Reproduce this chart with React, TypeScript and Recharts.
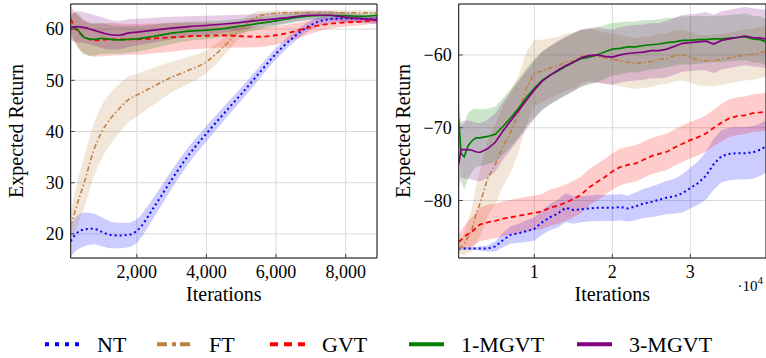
import React from 'react';
import { ComposedChart, Line, Area, XAxis, YAxis, CartesianGrid, ReferenceArea } from 'recharts';

// ---------- series ----------
const SERIES = ['NT', 'FT', 'GVT', '1-MGVT', '3-MGVT'];

// ---------- left panel (iterations) ----------
const leftIterations = [100, 250, 500, 750, 1000, 1250, 1500, 1750, 2000, 2500, 3000, 3500, 4000, 4500, 5000, 5500, 6000, 6500, 7000, 7500, 8000, 8500, 8900];
const leftNT = [18.6, 20.0, 20.9, 21.0, 20.4, 19.8, 19.7, 19.8, 20.6, 25.3, 30.6, 35.5, 39.6, 43.5, 47.3, 51.3, 55.2, 58.4, 60.8, 61.9, 62.1, 62.0, 61.9];
const leftNTSpread = [3.0, 3.3, 3.3, 3.0, 2.8, 2.6, 2.5, 2.4, 2.3, 2.0, 1.8, 1.6, 1.5, 1.4, 1.3, 1.2, 1.1, 1.0, 0.9, 0.8, 0.7, 0.6, 0.6];
const leftFT = [21.5, 25.0, 30.3, 36.1, 40.0, 42.6, 44.5, 46.2, 47.1, 48.9, 50.6, 52.0, 53.6, 56.6, 60.1, 62.5, 63.1, 63.2, 63.2, 63.2, 63.2, 63.2, 63.2];
const leftFTSpread = [2.5, 4.0, 5.0, 5.2, 5.2, 5.0, 4.8, 4.5, 4.2, 3.6, 3.0, 2.6, 2.2, 1.8, 1.5, 1.0, 0.6, 0.5, 0.5, 0.5, 0.5, 0.5, 0.5];
const leftGVT = [62.0, 60.0, 58.5, 57.8, 57.9, 58.0, 58.0, 58.0, 58.0, 58.2, 58.4, 58.6, 58.7, 58.8, 58.6, 58.5, 58.8, 59.5, 60.4, 61.0, 61.3, 61.5, 61.8];
const leftGVTSpread = [2.5, 3.0, 3.2, 3.2, 3.2, 3.2, 3.1, 3.0, 3.0, 2.9, 2.8, 2.6, 2.5, 2.4, 2.2, 2.0, 1.8, 1.6, 1.3, 1.0, 0.8, 0.7, 0.7];
const left1MGVT = [60.5, 60.2, 58.3, 58.0, 58.2, 58.0, 57.9, 58.0, 58.1, 58.6, 59.2, 59.6, 59.8, 60.1, 60.6, 61.1, 61.6, 62.2, 62.6, 62.7, 62.6, 62.5, 62.7];
const left1MGVTSpread = [2.0, 3.0, 3.3, 3.2, 3.0, 2.8, 2.7, 2.6, 2.5, 2.3, 2.1, 1.9, 1.8, 1.6, 1.4, 1.2, 1.0, 0.9, 0.8, 0.7, 0.7, 0.6, 0.6];
const left3MGVT = [60.2, 60.5, 60.3, 59.8, 59.3, 58.9, 58.8, 59.2, 59.4, 59.8, 60.2, 60.5, 60.7, 61.0, 61.3, 61.7, 62.0, 62.4, 62.7, 62.7, 62.3, 62.0, 61.8];
const left3MGVTSpread = [2.5, 3.0, 3.0, 3.0, 3.0, 2.9, 2.8, 2.7, 2.6, 2.4, 2.2, 2.0, 1.9, 1.7, 1.5, 1.3, 1.2, 1.0, 0.9, 0.9, 0.8, 0.8, 0.8];
const leftXTicks = [2000, 4000, 6000, 8000];
const leftYTicks = [20, 30, 40, 50, 60];

// ---------- right panel (iterations x 10^4) ----------
const rightIterations = [0.03, 0.06, 0.1, 0.15, 0.2, 0.25, 0.3, 0.4, 0.5, 0.6, 0.7, 0.8, 0.9, 1.0, 1.1, 1.2, 1.3, 1.4, 1.5, 1.6, 1.7, 1.8, 1.9, 2.0, 2.1, 2.2, 2.3, 2.4, 2.5, 2.6, 2.7, 2.8, 2.9, 3.0, 3.1, 3.2, 3.3, 3.4, 3.5, 3.6, 3.7, 3.8, 3.9, 3.97];
const rightNT = [-86.6, -86.6, -86.6, -86.6, -86.6, -86.6, -86.6, -86.6, -86.3, -85.4, -84.7, -84.5, -84.2, -83.9, -83.0, -82.3, -81.8, -81.0, -81.3, -81.2, -81.1, -81.0, -81.0, -81.0, -80.9, -81.1, -80.8, -80.4, -80.2, -79.9, -79.6, -79.4, -79.0, -78.3, -77.6, -76.6, -75.0, -73.9, -73.6, -73.5, -73.5, -73.4, -73.0, -72.6];
const rightNTSpread = [0.2, 0.2, 0.2, 0.2, 0.2, 0.2, 0.3, 0.4, 0.7, 1.0, 1.2, 1.3, 1.5, 1.6, 1.7, 1.8, 1.9, 2.0, 1.9, 1.8, 1.8, 1.8, 1.8, 1.8, 1.8, 1.8, 1.9, 2.0, 2.1, 2.2, 2.3, 2.4, 2.6, 2.8, 3.0, 3.3, 3.5, 3.6, 3.6, 3.6, 3.6, 3.6, 3.6, 3.6];
const rightFT = [-86.6, -86.4, -86.0, -85.0, -84.0, -82.0, -80.5, -77.0, -75.0, -72.5, -70.5, -68.0, -64.5, -62.5, -62.2, -61.8, -61.5, -61.0, -60.8, -60.2, -60.0, -60.2, -60.4, -60.6, -60.8, -61.0, -61.2, -61.0, -60.9, -60.6, -60.5, -60.1, -60.0, -60.3, -60.7, -60.8, -60.8, -60.6, -60.4, -60.2, -60.0, -59.9, -59.7, -59.5];
const rightFTSpread = [0.5, 1.0, 1.5, 2.2, 3.0, 3.8, 4.5, 5.2, 5.5, 5.5, 5.5, 5.3, 5.0, 4.6, 4.3, 4.1, 4.0, 3.9, 3.8, 3.7, 3.6, 3.6, 3.5, 3.5, 3.5, 3.5, 3.5, 3.5, 3.5, 3.5, 3.5, 3.5, 3.5, 3.5, 3.5, 3.5, 3.5, 3.5, 3.5, 3.5, 3.5, 3.5, 3.5, 3.5];
const rightGVT = [-85.7, -85.4, -85.0, -84.6, -84.3, -83.8, -83.3, -83.0, -82.8, -82.5, -82.3, -82.1, -81.9, -81.7, -81.5, -81.0, -80.7, -80.3, -79.8, -79.2, -78.2, -77.5, -76.8, -76.0, -75.4, -75.1, -74.9, -74.4, -73.9, -73.6, -73.3, -72.7, -72.2, -71.7, -71.3, -70.8, -70.0, -69.3, -68.7, -68.4, -68.3, -68.0, -67.9, -67.8];
const rightGVTSpread = [1.0, 1.2, 1.5, 1.8, 2.0, 2.2, 2.3, 2.4, 2.4, 2.4, 2.4, 2.4, 2.4, 2.4, 2.4, 2.5, 2.5, 2.5, 2.5, 2.5, 2.5, 2.5, 2.5, 2.5, 2.5, 2.5, 2.5, 2.5, 2.5, 2.5, 2.5, 2.5, 2.5, 2.5, 2.5, 2.5, 2.5, 2.6, 2.6, 2.6, 2.6, 2.6, 2.6, 2.6];
const right1MGVT = [-68.8, -73.5, -74.0, -72.5, -71.8, -71.4, -71.4, -71.2, -70.9, -69.8, -68.6, -67.3, -65.8, -64.6, -63.5, -62.8, -62.2, -61.6, -61.0, -60.5, -60.3, -60.0, -59.6, -59.2, -59.1, -58.9, -58.9, -58.7, -58.6, -58.5, -58.3, -58.2, -58.0, -58.0, -57.9, -57.9, -57.8, -57.8, -57.7, -57.6, -57.5, -57.8, -57.9, -58.2];
const right1MGVTSpread = [3.0, 4.0, 4.5, 4.5, 4.3, 4.0, 3.9, 3.8, 3.8, 3.9, 4.0, 4.0, 4.0, 4.0, 4.0, 4.0, 4.0, 4.0, 4.0, 3.9, 3.8, 3.8, 3.7, 3.6, 3.6, 3.5, 3.5, 3.5, 3.4, 3.4, 3.4, 3.3, 3.3, 3.3, 3.3, 3.2, 3.2, 3.2, 3.2, 3.2, 3.2, 3.2, 3.2, 3.2];
const right3MGVT = [-75.0, -73.0, -73.0, -73.0, -73.1, -73.3, -73.4, -72.9, -72.0, -70.4, -69.0, -67.6, -66.2, -64.8, -63.6, -62.8, -62.1, -61.5, -61.0, -60.4, -60.1, -60.0, -60.2, -60.3, -60.0, -59.8, -59.7, -59.6, -59.4, -59.4, -59.2, -58.8, -58.4, -58.3, -58.2, -58.1, -58.5, -58.0, -57.8, -57.6, -57.4, -57.6, -57.7, -57.8];
const right3MGVTSpread = [3.5, 3.8, 4.0, 4.0, 4.0, 4.0, 4.0, 4.0, 4.0, 4.0, 4.0, 4.0, 4.0, 4.0, 4.0, 4.0, 4.0, 4.0, 4.0, 3.9, 3.8, 3.8, 3.8, 3.8, 3.8, 3.8, 3.8, 3.8, 3.8, 3.8, 3.9, 3.9, 3.9, 3.9, 3.9, 4.0, 4.0, 4.0, 4.0, 4.0, 4.0, 4.0, 4.0, 4.0];
const rightXTicks = [1, 2, 3];
const rightYTicks = [-80, -70, -60];

// ---------- styles ----------
const FONT = 'Liberation Serif';
const COLORS: Record<string, string> = { NT: '#0000ff', FT: '#bf8040', GVT: '#ff0000', '1-MGVT': '#008000', '3-MGVT': '#800080' };
const LINE_DASH: Record<string, string | undefined> = { NT: '2 3', FT: '5 2.5 1.5 2.5', GVT: '5 3.5', '1-MGVT': undefined, '3-MGVT': undefined };
const LINE_WIDTH: Record<string, number> = { NT: 2, FT: 1.6, GVT: 1.8, '1-MGVT': 1.7, '3-MGVT': 1.7 };
const LEGEND_DASH: Record<string, string | undefined> = { NT: '4 6', FT: '10 5 4 4', GVT: '8 6', '1-MGVT': undefined, '3-MGVT': undefined };
const LEGEND_X = [45, 157, 270, 409, 577];
const TICK_COLOR = '#444';

function buildRows(xs: number[], means: Record<string, number[]>, spreads: Record<string, number[]>) {
  return xs.map((x, i) => {
    const row: any = { x };
    SERIES.forEach((s) => {
      row[s] = means[s][i];
      row[s + '_band'] = [means[s][i] - spreads[s][i], means[s][i] + spreads[s][i]];
    });
    return row;
  });
}

const leftRows = buildRows(
  leftIterations,
  { NT: leftNT, FT: leftFT, GVT: leftGVT, '1-MGVT': left1MGVT, '3-MGVT': left3MGVT },
  { NT: leftNTSpread, FT: leftFTSpread, GVT: leftGVTSpread, '1-MGVT': left1MGVTSpread, '3-MGVT': left3MGVTSpread }
);
const rightRows = buildRows(
  rightIterations,
  { NT: rightNT, FT: rightFT, GVT: rightGVT, '1-MGVT': right1MGVT, '3-MGVT': right3MGVT },
  { NT: rightNTSpread, FT: rightFTSpread, GVT: rightGVTSpread, '1-MGVT': right1MGVTSpread, '3-MGVT': right3MGVTSpread }
);

const textStyle = (size: number) => ({ fontFamily: FONT, fontSize: size, fill: '#000' });

const XLabel = (props: any) => {
  const { viewBox, exponent } = props;
  const { x, y, width } = viewBox;
  return (
    <g>
      <text x={x + width / 2} y={y + 43} textAnchor="middle" style={textStyle(20)}>
        Iterations
      </text>
      {exponent ? (
        <text x={x + width - 3} y={y + 33} textAnchor="end" style={textStyle(15)}>
          {'·10'}
          <tspan style={{ fontSize: 11 }} dy={-7}>4</tspan>
        </text>
      ) : null}
    </g>
  );
};

const YLabel = (props: any) => {
  const { viewBox, cx } = props;
  const { x, y, height } = viewBox;
  const px = x + cx;
  const py = y + height / 2;
  return (
    <text x={px} y={py} dy="0.35em" transform={`rotate(-90 ${px} ${py})`} textAnchor="middle" style={textStyle(20)}>
      Expected Return
    </text>
  );
};

const fmtThousands = (v: number) => v.toLocaleString('en-US');
const fmtMinus = (v: number) => (v < 0 ? '\u2212' + Math.abs(v) : String(v));

const TickText = (props: any) => {
  const { x, y, payload, textAnchor, formatter, orientation } = props;
  const dy = orientation === 'bottom' ? '0.71em' : '0.35em';
  return (
    <text x={x} y={y} dy={dy} textAnchor={textAnchor} style={textStyle(18)}>
      {formatter(payload.value)}
    </text>
  );
};

const NoTick = () => <g />;

function Panel(props: any) {
  const { rows, width, marginRight, xDomain, xTicks, xFmt, yDomain, yTicks, yFmt, yAxisWidth, yLabelX, exponent, curve } = props;
  return (
    <ComposedChart width={width} height={310} data={rows} margin={{ top: 4, right: marginRight, bottom: 0, left: 0 }}>
      <CartesianGrid stroke="#dadada" strokeWidth={1} />
      <XAxis
        type="number"
        dataKey="x"
        domain={xDomain}
        ticks={xTicks}
        allowDataOverflow
        tick={(p: any) => <TickText {...p} formatter={xFmt} orientation="bottom" />}
        tickSize={-4}
        tickMargin={11}
        tickLine={{ stroke: TICK_COLOR }}
        axisLine={false}
        height={52}
        label={(p: any) => <XLabel {...p} exponent={exponent} />}
      />
      <XAxis
        xAxisId="top"
        orientation="top"
        type="number"
        dataKey="x"
        domain={xDomain}
        ticks={xTicks}
        allowDataOverflow
        tick={NoTick}
        tickSize={-4}
        tickLine={{ stroke: TICK_COLOR }}
        axisLine={false}
        height={0}
      />
      <YAxis
        type="number"
        domain={yDomain}
        ticks={yTicks}
        allowDataOverflow
        tick={(p: any) => <TickText {...p} formatter={yFmt} orientation="left" />}
        tickSize={-4}
        tickMargin={11}
        tickLine={{ stroke: TICK_COLOR }}
        axisLine={false}
        width={yAxisWidth}
        label={(p: any) => <YLabel {...p} cx={yLabelX} />}
      />
      <YAxis
        yAxisId="right"
        orientation="right"
        type="number"
        domain={yDomain}
        ticks={yTicks}
        allowDataOverflow
        tick={NoTick}
        tickSize={-4}
        tickLine={{ stroke: TICK_COLOR }}
        axisLine={false}
        width={0}
      />
      {SERIES.map((s) => (
        <Area
          key={s + '_band'}
          dataKey={s + '_band'}
          type={curve}
          stroke="none"
          fill={COLORS[s]}
          fillOpacity={0.2}
          isAnimationActive={false}
          activeDot={false}
          dot={false}
        />
      ))}
      {SERIES.map((s) => (
        <Line
          key={s}
          dataKey={s}
          type={curve}
          stroke={COLORS[s]}
          strokeWidth={LINE_WIDTH[s]}
          strokeDasharray={LINE_DASH[s]}
          dot={false}
          activeDot={false}
          isAnimationActive={false}
        />
      ))}
      <ReferenceArea x1={xDomain[0]} x2={xDomain[1]} y1={yDomain[0]} y2={yDomain[1]} fill="none" stroke="#111" strokeWidth={1} ifOverflow="visible" />
    </ComposedChart>
  );
}

export default function App() {
  return (
    <div style={{ position: 'absolute', left: 0, top: 0, width: 766, height: 358, background: '#fff', overflow: 'hidden', fontFamily: FONT }}>
      <div style={{ position: 'absolute', left: 0, top: 0 }}>
        <Panel
          rows={leftRows}
          width={380}
          marginRight={3}
          xDomain={[100, 8900]}
          xTicks={leftXTicks}
          xFmt={fmtThousands}
          yDomain={[15.3, 64.9]}
          yTicks={leftYTicks}
          yFmt={(v: number) => String(v)}
          yAxisWidth={70.7}
          yLabelX={15.5}
          exponent={false}
          curve="monotone"
        />
      </div>
      <div style={{ position: 'absolute', left: 380, top: 0 }}>
        <Panel
          rows={rightRows}
          width={386}
          marginRight={0}
          xDomain={[0.03, 3.97]}
          xTicks={rightXTicks}
          xFmt={(v: number) => String(v)}
          yDomain={[-87.9, -53]}
          yTicks={rightYTicks}
          yFmt={fmtMinus}
          yAxisWidth={78.7}
          yLabelX={23}
          exponent={true}
          curve="linear"
        />
      </div>
      <svg width={766} height={36} style={{ position: 'absolute', left: 0, top: 322 }}>
        {SERIES.map((s, i) => (
          <g key={s}>
            <line x1={LEGEND_X[i]} x2={LEGEND_X[i] + 35} y1={22.3} y2={22.3} stroke={COLORS[s]} strokeWidth={4} strokeDasharray={LEGEND_DASH[s]} />
            <text x={LEGEND_X[i] + 52} y={29.7} style={textStyle(22)}>{s}</text>
          </g>
        ))}
      </svg>
    </div>
  );
}
